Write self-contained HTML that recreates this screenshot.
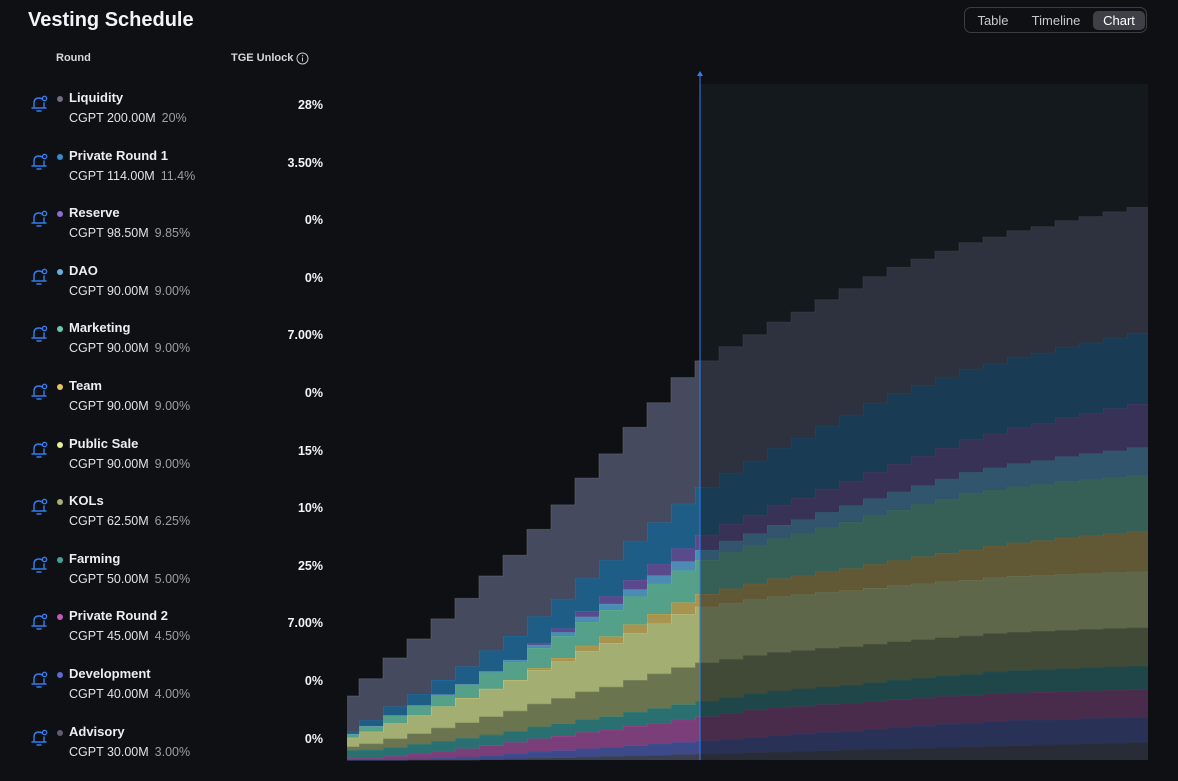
<!DOCTYPE html>
<html><head><meta charset="utf-8"><style>
body{margin:0;width:1178px;height:771px;background:#0f1013;overflow:hidden;font-family:"Liberation Sans",sans-serif;color:#e8eaed;position:relative}
.abs{position:absolute}
#title{left:28px;top:9px;font-size:20px;font-weight:bold;color:#f2f3f5}
.colh{top:52px;font-size:11px;font-weight:bold;color:#d5d7db}
.row{position:absolute;left:0;width:340px;height:57px}
.bell{position:absolute;left:30px;top:4px}
.dot{position:absolute;left:57px;top:6px;width:6px;height:6px;border-radius:50%}
.nm{position:absolute;left:69px;top:0;font-size:13px;font-weight:bold;color:#eceef1}
.sub{position:absolute;left:69px;top:21px;font-size:12.5px;color:#e0e2e5}
.sub span{color:#9a9ea6;margin-left:6px}
.tge{position:absolute;right:17px;top:8px;font-size:12.5px;font-weight:bold;color:#f2f3f5}
#tog{left:964px;top:7px;width:183px;height:26px;border:1px solid #3a3d44;border-radius:7px;box-sizing:border-box}
.tb{position:absolute;top:3px;height:19px;line-height:19px;font-size:13px;color:#c5c8cd;text-align:center;border-radius:5px}
</style></head><body>
<div id="title" class="abs">Vesting Schedule</div>
<div class="abs colh" style="left:56px">Round</div>
<div class="abs colh" style="left:231px">TGE Unlock</div>
<svg class="abs" style="left:296px;top:52px" width="13" height="13"><circle cx="6.5" cy="6.5" r="5.5" fill="none" stroke="#c5c8cd" stroke-width="1"/><line x1="6.5" y1="5.5" x2="6.5" y2="9.5" stroke="#c5c8cd"/><circle cx="6.5" cy="3.8" r="0.7" fill="#c5c8cd"/></svg>
<div id="tog" class="abs">
<div class="tb" style="left:4px;width:48px">Table</div>
<div class="tb" style="left:58px;width:66px">Timeline</div>
<div class="tb" style="left:128px;width:52px;background:#3d4047;color:#fff">Chart</div>
</div>
<div id="rows"></div>
<svg id="chart" class="abs" style="left:0;top:0" width="1178" height="771"></svg>
<script>
const rounds=["Liquidity","Private Round 1","Reserve","DAO","Marketing","Team","Public Sale","KOLs","Farming","Private Round 2","Development","Advisory"];
const amounts=["200.00M","114.00M","98.50M","90.00M","90.00M","90.00M","90.00M","62.50M","50.00M","45.00M","40.00M","30.00M"];
const shares=["20%","11.4%","9.85%","9.00%","9.00%","9.00%","9.00%","6.25%","5.00%","4.50%","4.00%","3.00%"];
const tge=["28%","3.50%","0%","0%","7.00%","0%","15%","10%","25%","7.00%","0%","0%"];
const dotColors=["#6b7080","#2f8fd0","#8a6fd0","#5fb4e6","#5fd0aa","#e6c45a","#e8f090","#a8b070","#3aa89a","#c45ab8","#5a6ad8","#5a6070"];
const fillColors=["#464a5e","#1e5d86","#5a4a8c","#4c8cb4","#55a088","#a8944e","#a2ae72","#6a7550","#2a7070","#7a3f78","#3c4a8a","#3a3f50"];
// unlocked tokens (M) per month, month 0..33
const sLiq=[56,66,77,87,97,108,118,128,138,149,159,169,180,190,200,200,200,200,200,200,200,200,200,200,200,200,200,200,200,200,200,200,200,200];
const sPR1=[4,9,14,18,23,28,33,38,42,47,52,57,62,66,71,76,81,86,90,95,100,105,110,112,112,112,112,112,112,112,112,112,112,112];
const sRes=[0,0,0,0,0,0,0,0,3,6,9,12,15,18,21,24,27,29,32,34,37,39,42,44,47,49,52,54,57,59,62,64,67,69];
const sDAO=[0,0,0,0,0,0,2,3,5,6,8,10,11,13,14,16,18,19,21,22,24,26,27,29,30,32,34,35,37,38,40,41,42,44];
const sMkt=[6,9,13,16,19,22,26,29,32,35,38,42,45,48,51,54,58,61,64,67,70,74,77,80,83,86,89,89,89,89,89,89,89,89];
const sTeam=[0,0,0,0,0,0,0,0,3,5,8,10,13,15,18,20,23,25,28,30,33,35,38,40,43,45,48,50,53,55,58,60,62,64];
const sPS=[14,19,24,29,34,39,44,49,54,59,65,70,75,80,85,89,89,89,89,89,89,89,89,89,89,89,89,89,89,89,89,89,89,89];
const sKOL=[6,10,14,17,21,25,29,32,36,40,44,47,51,55,59,61,61,61,61,61,61,61,61,61,61,61,61,61,61,61,61,61,61,61];
const sFarm=[12.5,13,14,15,16,16.5,17,18,19,20,20.5,21,22,23,24,24.5,25,26,27,28,28.5,29,30,31,32,32.5,33,34,35,35.5,36,36.5,37,37];
const sPR2=[3,3,6,8,11,13,16,18,21,23,26,28,31,33,36,38,41,43,44,44,44,44,44,44,44,44,44,44,44,44,44,44,44,44];
const sDev=[0,0,0,2,3,5,6,8,10,11,13,14,16,18,19,21,22,24,26,27,29,30,32,34,35,37,38,40,40,40,40,40,40,40];
const sAdv=[0,0,0,0,0,0,1,2,3,4,5,6,7,8,9,10,11,12,13,14,15,16,17,18,19,20,21,22,23,24,25,26,27,28];
const series=[sLiq,sPR1,sRes,sDAO,sMkt,sTeam,sPS,sKOL,sFarm,sPR2,sDev,sAdv];

const rowsEl=document.getElementById('rows');
rounds.forEach((r,i)=>{
  const d=document.createElement('div');d.className='row';d.style.top=(90+i*57.6)+'px';
  
  
  d.innerHTML=`<svg class="bell" width="18" height="20"><path d="M4 14 L4 9 Q4 4 9 4 Q11 4 12 5 M14 9 L14 14 M2 14 L16 14 M7 17 L11 17" fill="none" stroke="#2f7ff0" stroke-width="1.4" stroke-linecap="round"/><circle cx="14.5" cy="4.5" r="2.2" fill="none" stroke="#2f7ff0" stroke-width="1.3"/></svg><div class="dot" style="background:${dotColors[i]}"></div><div class="nm">${r}</div><div class="sub">CGPT ${amounts[i]}<span>${shares[i]}</span></div><div class="tge">${tge[i]}</div>`;
  rowsEl.appendChild(d);
});

const svg=document.getElementById('chart');const NS='http://www.w3.org/2000/svg';
const X0=347,XS=359,STEP=24,X1=1148,YB=760,PXM=0.63,HOVERX=700;
const n=sLiq.length;
const xL=k=>k===0?X0:XS+STEP*(k-1);
const xR=k=>Math.min(X1,XS+STEP*k);
const y=v=>YB-v*PXM;
function el(t,a){const e=document.createElementNS(NS,t);for(const k in a)e.setAttribute(k,a[k]);svg.appendChild(e);return e;}
const bg=el('rect',{x:HOVERX,y:84,width:X1-HOVERX,height:YB-84,fill:'#15191e'});


const order=[...series.keys()].reverse();
let base=new Array(n).fill(0);
order.forEach(si=>{
  const s=series[si];const top=base.map((b,k)=>b+s[k]);
  let d='';
  for(let k=0;k<n;k++){d+=(k===0?'M':'L')+xL(k)+','+y(top[k])+'L'+xR(k)+','+y(top[k]);}
  for(let k=n-1;k>=0;k--){d+='L'+xR(k)+','+y(base[k])+'L'+xL(k)+','+y(base[k]);}
  const p=el('path',{d:d+'Z',fill:fillColors[si],stroke:'none'});
  
  
  let ld='';
  for(let k=0;k<n;k++){ld+=(k===0?'M':'L')+xL(k)+','+y(top[k])+'L'+xR(k)+','+y(top[k]);}
  el('path',{d:ld,fill:'none',stroke:dotColors[si],'stroke-opacity':0.45,'stroke-width':1});
  base=top;
});
const ov=el('rect',{x:HOVERX,y:84,width:X1-HOVERX,height:YB-84,fill:'#15191e','fill-opacity':0.48});


const ln=el('line',{x1:HOVERX,y1:74,x2:HOVERX,y2:YB,stroke:'#2f7ff0','stroke-width':1});


const ar=el('path',{d:`M${HOVERX-3},76 L${HOVERX},71 L${HOVERX+3},76 Z`,fill:'#2f7ff0'});


</script>
</body></html>
